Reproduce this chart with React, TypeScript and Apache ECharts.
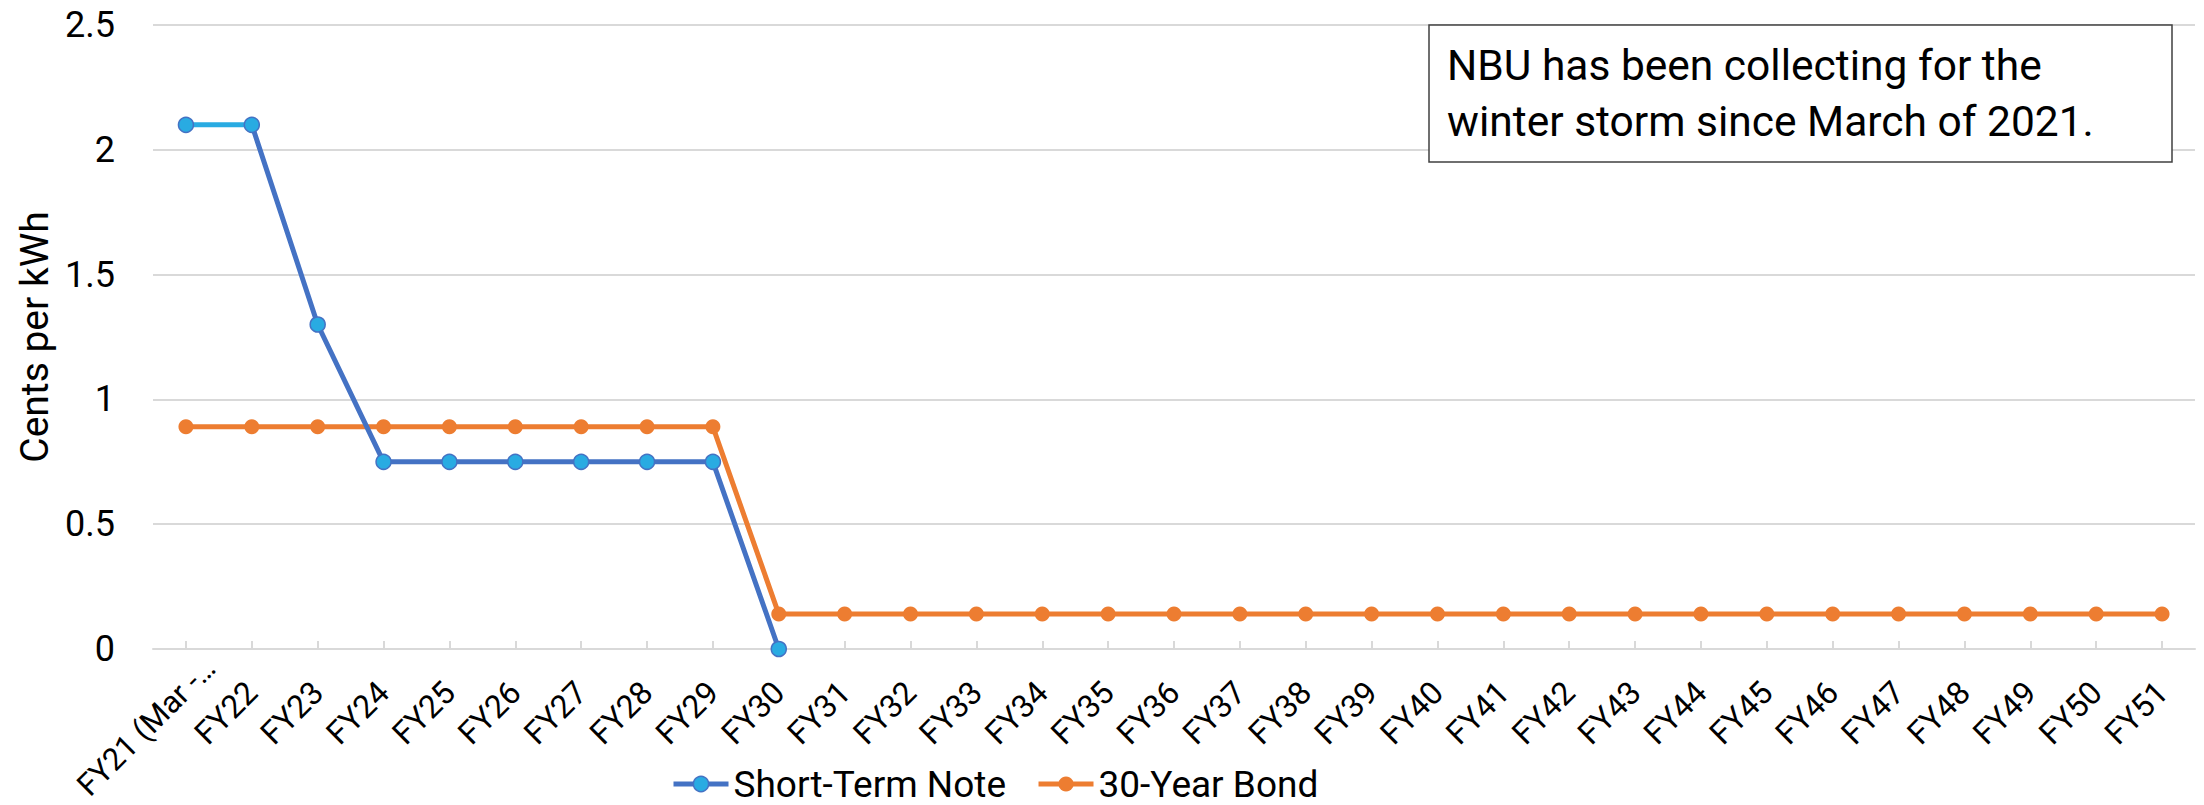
import React, { useEffect, useRef } from "react";
import * as echarts from "echarts";

const categories = [
  "FY21 (Mar -…", "FY22", "FY23", "FY24", "FY25", "FY26", "FY27", "FY28", "FY29", "FY30",
  "FY31", "FY32", "FY33", "FY34", "FY35", "FY36", "FY37", "FY38", "FY39", "FY40",
  "FY41", "FY42", "FY43", "FY44", "FY45", "FY46", "FY47", "FY48", "FY49", "FY50", "FY51",
];

const shortTermNote = [2.1, 2.1, 1.3, 0.75, 0.75, 0.75, 0.75, 0.75, 0.75, 0];

const thirtyYearBond = [
  0.89, 0.89, 0.89, 0.89, 0.89, 0.89, 0.89, 0.89, 0.89, 0.14,
  0.14, 0.14, 0.14, 0.14, 0.14, 0.14, 0.14, 0.14, 0.14, 0.14,
  0.14, 0.14, 0.14, 0.14, 0.14, 0.14, 0.14, 0.14, 0.14, 0.14, 0.14,
];

const yTicks = { min: 0, max: 2.5, interval: 0.5 };

const annotationLines = [
  "NBU has been collecting for the",
  "winter storm since March of 2021.",
];

const BLUE = "#4472C4";
const LIGHT_BLUE = "#29ABE2";
const ORANGE = "#ED7D31";
const GRID = "#D9D9D9";
const FONT = "Roboto, 'Liberation Sans', sans-serif";

export default function App() {
  const ref = useRef<HTMLDivElement>(null);

  useEffect(() => {
    document.body.style.margin = "0";
    if (!ref.current) return;
    const chart = echarts.init(ref.current, null, { renderer: "svg" });
    const firstStop = 1 / (shortTermNote.length - 1);

    // the truncated first label sits a little further along its own direction, as in the reference
    const categoryData = categories.map((c, i) =>
      i === 0 ? { value: c, textStyle: { fontSize: 31, padding: [0, -34, 0, 0] } } : c
    );

    chart.setOption({
      animation: false,
      backgroundColor: "#ffffff",
      grid: {
        left: 153,
        right: 9,
        top: 25,
        bottom: 156,
        containLabel: false,
        outerBoundsMode: "none",
      },
      xAxis: {
        type: "category",
        data: categoryData,
        boundaryGap: true,
        axisLine: { show: true, lineStyle: { color: GRID, width: 2 } },
        axisTick: { show: true, inside: true, length: 8, alignWithLabel: true, lineStyle: { color: GRID, width: 2 } },
        axisLabel: {
          interval: 0,
          rotate: 45,
          margin: 38,
          align: "right",
          color: "#000",
          fontFamily: FONT,
          fontSize: 32,
        },
        splitLine: { show: false },
      },
      yAxis: {
        type: "value",
        min: yTicks.min,
        max: yTicks.max,
        interval: yTicks.interval,
        name: "Cents per kWh",
        nameLocation: "middle",
        nameGap: 99,
        nameTextStyle: { color: "#000", fontFamily: FONT, fontSize: 39 },
        axisLine: { show: false },
        axisTick: { show: false },
        axisLabel: { color: "#000", fontFamily: FONT, fontSize: 36, margin: 38 },
        splitLine: { show: true, lineStyle: { color: GRID, width: 2 } },
      },
      legend: {
        left: 666,
        top: 760,
        itemWidth: 55,
        itemHeight: 19,
        itemGap: 30,
        textStyle: { color: "#000", fontFamily: FONT, fontSize: 37, lineHeight: 38 },
        data: [
          { name: "Short-Term Note", lineStyle: { color: BLUE, width: 5 }, itemStyle: { color: LIGHT_BLUE, borderColor: BLUE, borderWidth: 1.5 } },
          { name: "30-Year Bond", lineStyle: { color: ORANGE, width: 5 }, itemStyle: { color: ORANGE } },
        ],
      },
      series: [
        {
          name: "Short-Term Note",
          type: "line",
          data: shortTermNote,
          symbol: "circle",
          symbolSize: 15,
          z: 3,
          lineStyle: {
            width: 5,
            color: {
              type: "linear",
              x: 0, y: 0, x2: 1, y2: 0,
              colorStops: [
                { offset: 0, color: LIGHT_BLUE },
                { offset: firstStop, color: LIGHT_BLUE },
                { offset: firstStop, color: BLUE },
                { offset: 1, color: BLUE },
              ],
            },
          },
          itemStyle: { color: LIGHT_BLUE, borderColor: BLUE, borderWidth: 1.5 },
        },
        {
          name: "30-Year Bond",
          type: "line",
          data: thirtyYearBond,
          symbol: "circle",
          symbolSize: 15,
          z: 2,
          lineStyle: { width: 5, color: ORANGE },
          itemStyle: { color: ORANGE, borderWidth: 0 },
        },
      ],
      graphic: [
        {
          type: "rect",
          z: 10,
          shape: { x: 1429, y: 25, width: 743, height: 137 },
          style: { fill: "#ffffff", stroke: "#404040", lineWidth: 1.5 },
        },
        {
          type: "text",
          z: 11,
          x: 1447,
          y: 65,
          style: {
            text: annotationLines[0],
            fill: "#000",
            fontSize: 42.5,
            fontFamily: FONT,
            verticalAlign: "middle",
            align: "left",
          },
        },
        {
          type: "text",
          z: 11,
          x: 1447,
          y: 121,
          style: {
            text: annotationLines[1],
            fill: "#000",
            fontSize: 42.5,
            fontFamily: FONT,
            verticalAlign: "middle",
            align: "left",
          },
        },
      ],
    });

    return () => chart.dispose();
  }, []);

  return <div ref={ref} style={{ width: 2204, height: 805 }} />;
}
